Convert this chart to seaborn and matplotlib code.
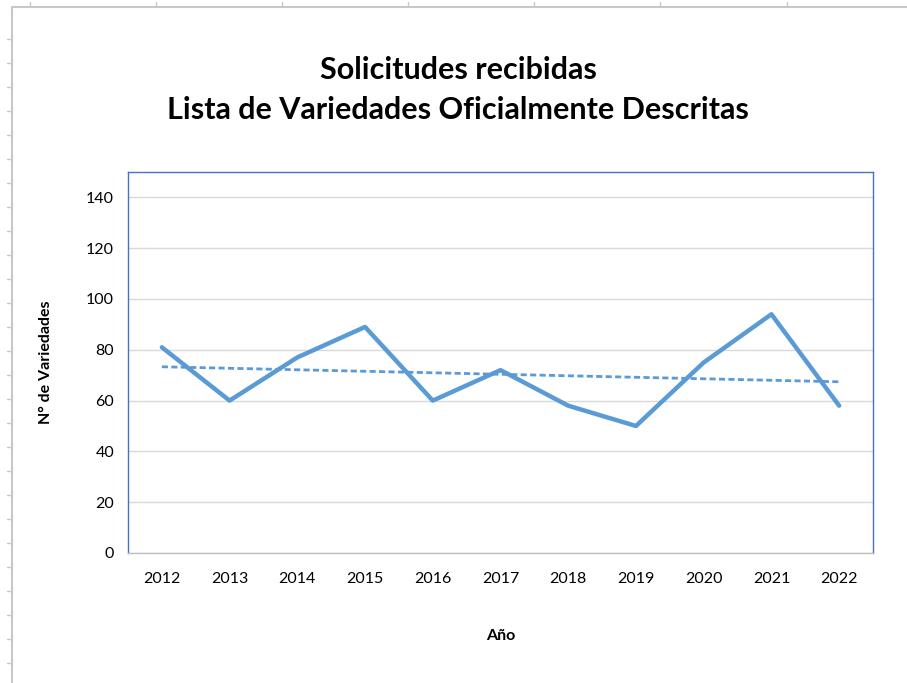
import numpy as np
import pandas as pd
import matplotlib.pyplot as plt
import seaborn as sns
from matplotlib.lines import Line2D

# Data
years = ["2012", "2013", "2014", "2015", "2016", "2017", "2018", "2019", "2020", "2021", "2022"]
solicitudes = [81, 60, 77, 89, 60, 72, 58, 50, 75, 94, 58]

df = pd.DataFrame({"pos": np.arange(len(years)), "Año": years, "valor": solicitudes})

sns.set_style("white")
plt.rcParams["font.family"] = ["Lato", "DejaVu Sans"]
plt.rcParams["text.color"] = "black"
plt.rcParams["axes.labelcolor"] = "black"
plt.rcParams["xtick.labelcolor"] = "black"
plt.rcParams["ytick.labelcolor"] = "black"

blue = "#5B9BD5"
fig = plt.figure(figsize=(9.07, 6.83), dpi=100)
ax = fig.add_axes([128 / 907, 130 / 683, (873 - 128) / 907, (553 - 172) / 683])

sns.lineplot(x="pos", y="valor", data=df, ax=ax, color=blue, linewidth=3.2, zorder=3)
# linear trend line
sns.regplot(x="pos", y="valor", data=df, ax=ax, scatter=False, ci=None, truncate=True,
            line_kws={"color": blue, "linewidth": 2.0, "linestyle": (0, (2.2, 1.2)), "zorder": 2})

ax.set_xlim(-0.5, len(years) - 0.5)
ax.set_ylim(0, 150)
ax.set_yticks(range(0, 141, 20))
ax.set_xticks(np.arange(len(years)))
ax.set_xticklabels(years)
ax.set_xticks(np.arange(len(years) + 1) - 0.5, minor=True)
ax.tick_params(axis="x", which="major", length=0, pad=14, labelsize=11.5)
ax.tick_params(axis="x", which="minor", length=6, color="#BFBFBF", width=1)
ax.tick_params(axis="y", length=0, pad=10, labelsize=11.5)
ax.yaxis.grid(True, color="#D9D9D9", linewidth=1)
ax.set_axisbelow(True)
for s in ax.spines.values():
    s.set_visible(True)
    s.set_color("#4472C4")
    s.set_linewidth(1)
ax.spines["bottom"].set_color("#BFBFBF")

ax.set_xlabel("Año", fontsize=11.5, fontweight="bold", labelpad=31)
ax.set_ylabel("N° de Variedades", fontsize=11.5, fontweight="bold", labelpad=24)

fig.text(458 / 907, 1 - 70 / 683, "Solicitudes recibidas", ha="center", va="center",
         fontsize=22, fontweight="bold")
fig.text(458 / 907, 1 - 110 / 683, "Lista de Variedades Oficialmente Descritas", ha="center",
         va="center", fontsize=22, fontweight="bold")

# spreadsheet border visible around the chart object
gray = "#C8C8C8"
fig.add_artist(Line2D([12 / 907, 12 / 907], [0, 1 - 7 / 683], transform=fig.transFigure, color=gray, lw=1.5))
fig.add_artist(Line2D([12 / 907, 1], [1 - 7 / 683, 1 - 7 / 683], transform=fig.transFigure, color=gray, lw=1.5))
for xp in [30, 156, 282, 408, 534, 660, 787]:
    fig.add_artist(Line2D([xp / 907, xp / 907], [1 - 2 / 683, 1 - 7 / 683], transform=fig.transFigure, color=gray, lw=1))
for yp in range(39, 683, 24):
    fig.add_artist(Line2D([7 / 907, 12 / 907], [1 - yp / 683, 1 - yp / 683], transform=fig.transFigure, color=gray, lw=1))

fig.savefig("out.png", dpi=100)
